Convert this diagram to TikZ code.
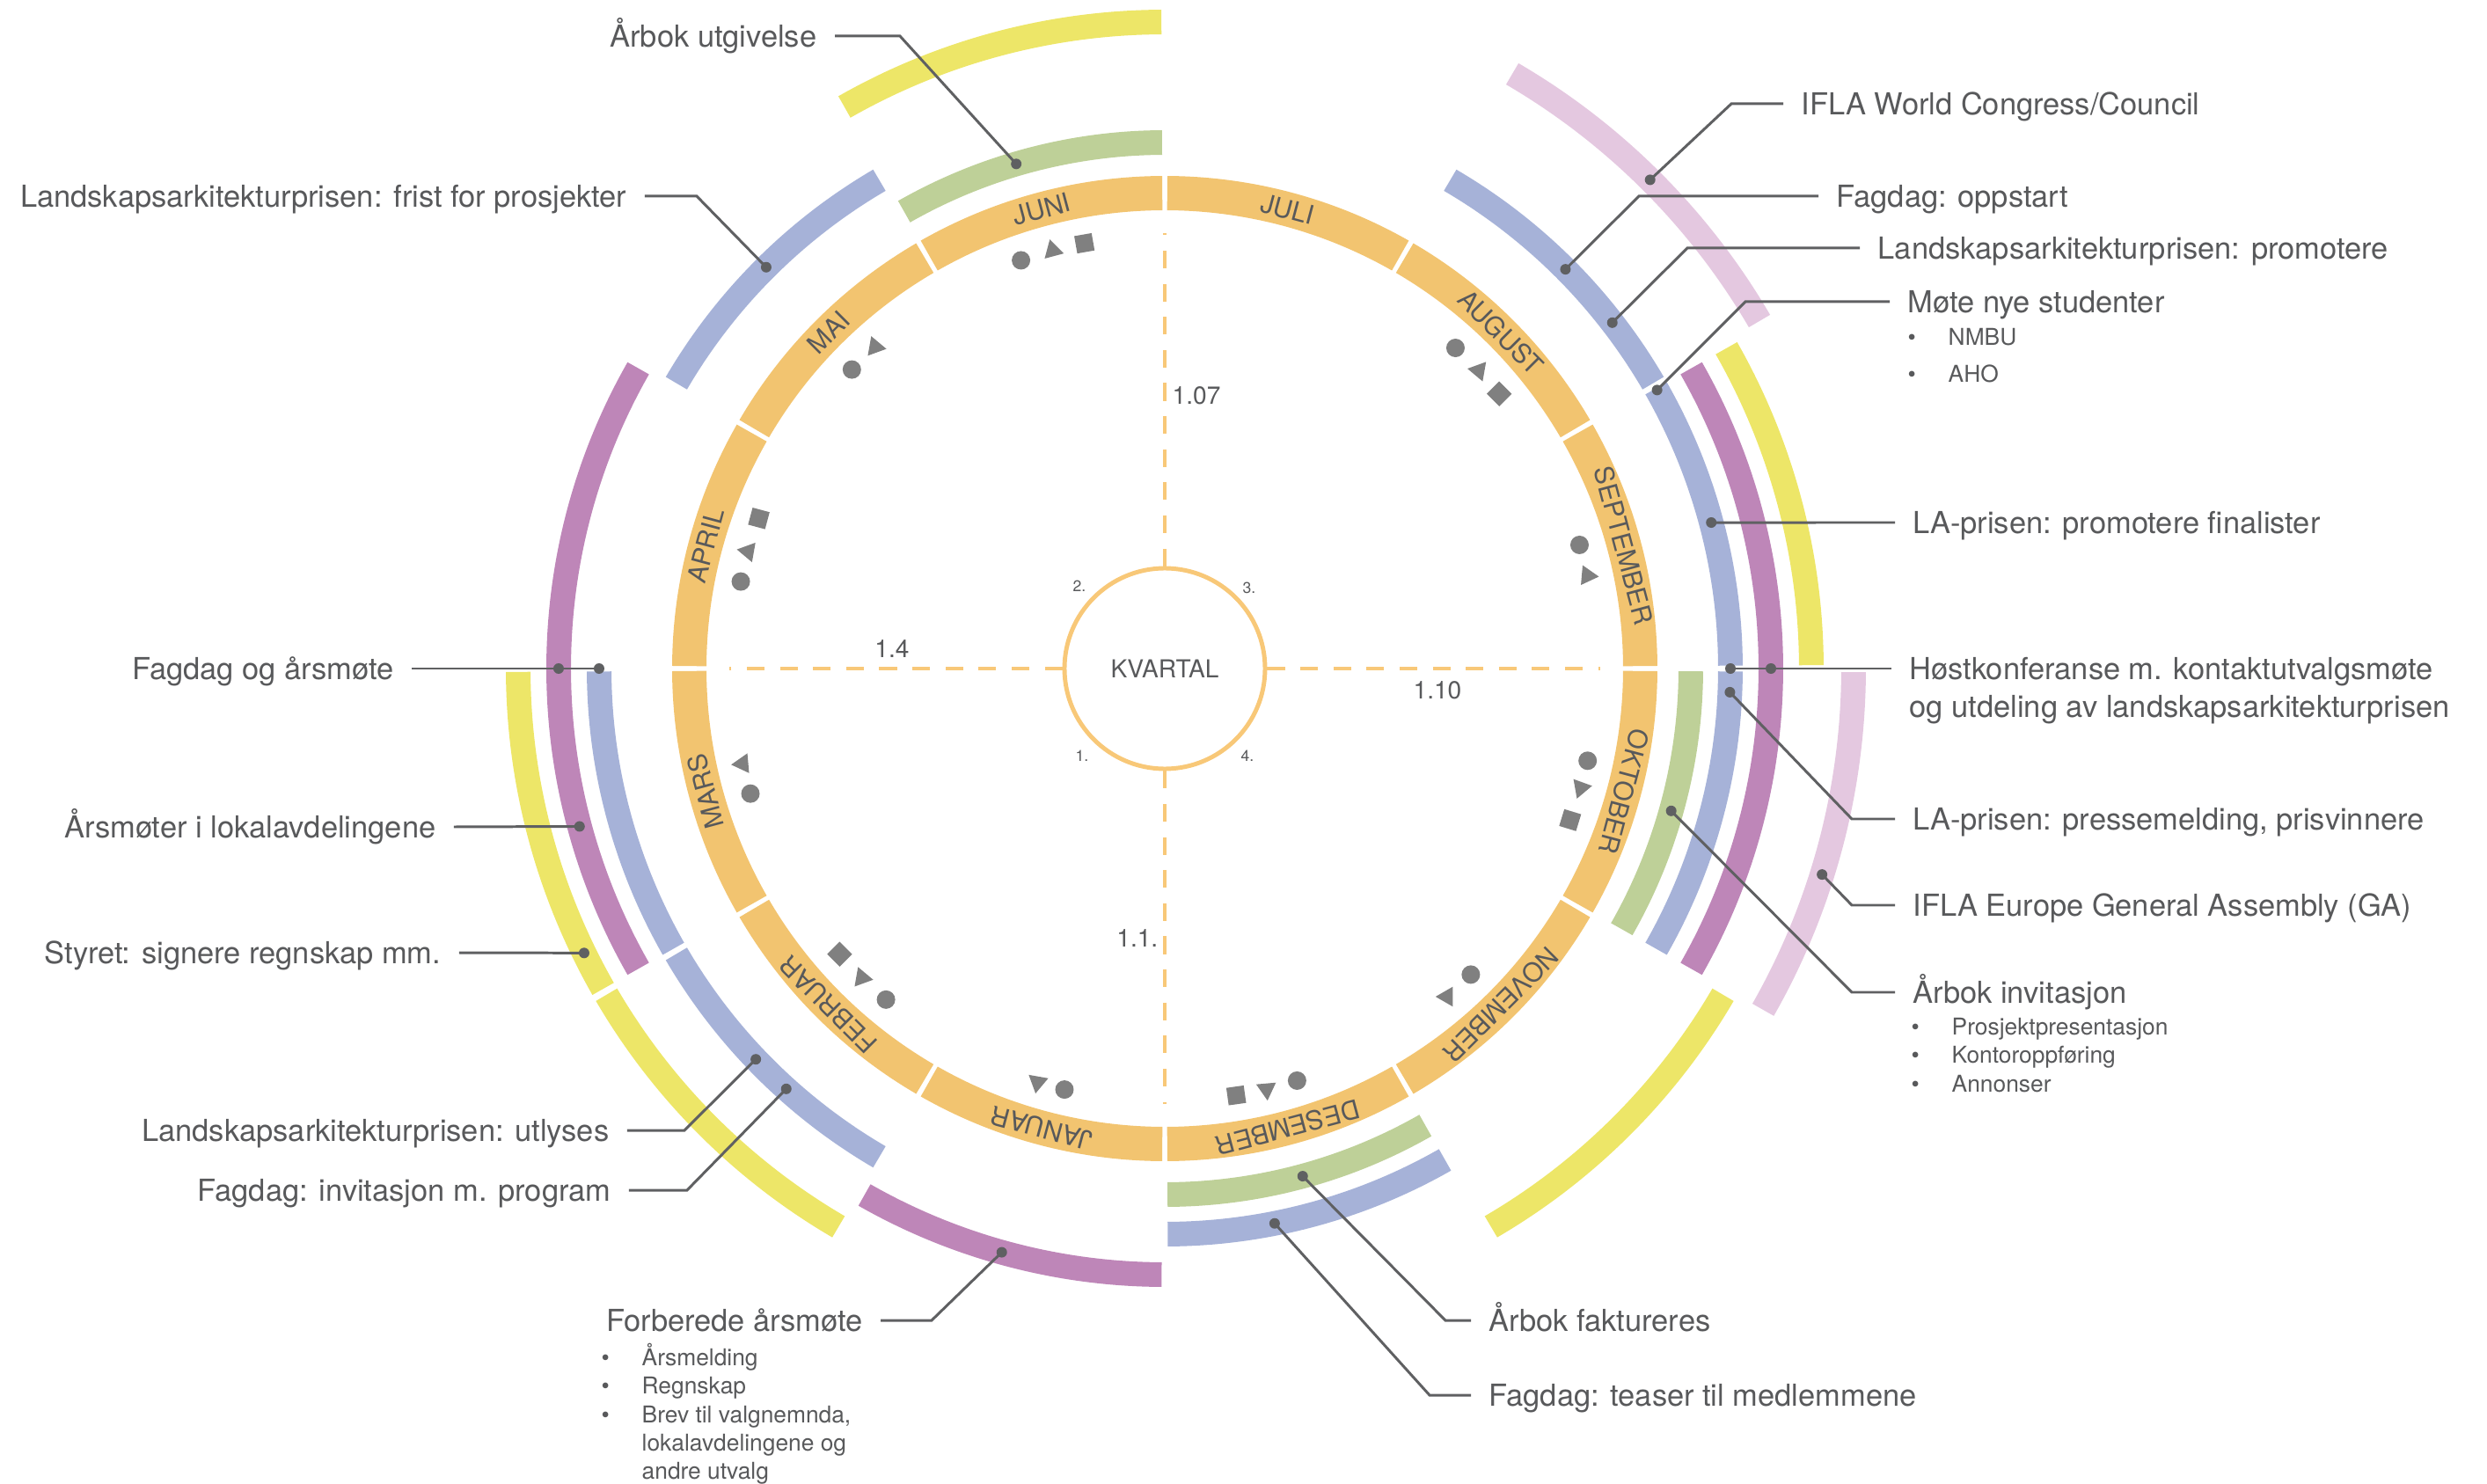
\documentclass[tikz,border=0pt]{standalone}
\usepackage{fontspec}
\setmainfont{TeX Gyre Heros}
\usetikzlibrary{shapes.geometric}
\definecolor{monthc}{HTML}{F2C470}
\definecolor{axisc}{HTML}{F8C878}
\definecolor{greenc}{HTML}{BED098}
\definecolor{bluec}{HTML}{A6B2D8}
\definecolor{purplec}{HTML}{BE86B8}
\definecolor{yellowc}{HTML}{EDE668}
\definecolor{pinkc}{HTML}{E4C8E0}
\definecolor{textc}{HTML}{58595B}
\definecolor{linec}{HTML}{5F6062}
\definecolor{symc}{HTML}{808080}

\begin{document}
\begin{tikzpicture}[
	band/.style={line width=0.28cm},
	monthband/.style={line width=0.39cm, monthc},
	mon/.style={font=\fontsize{8.5}{10}\selectfont, text=textc, inner sep=0pt},
	lbl/.style={font=\fontsize{9.8}{12.3}\selectfont, text=textc, inner xsep=0.2cm, inner ysep=0pt, text height=9pt, text depth=2pt},
	sub/.style={font=\fontsize{7.5}{9.2}\selectfont, text=textc, inner sep=0pt, anchor=base west},
	num/.style={font=\fontsize{8}{10}\selectfont, text=textc, inner sep=0pt},
	qnum/.style={font=\fontsize{5}{6}\selectfont, text=textc, inner sep=0pt},
	con/.style={linec, line width=0.85pt},
	ldot/.style={circle, fill=linec, inner sep=0pt, minimum size=0.12cm},
	quarterline/.style={axisc, line width=1.3pt, dash pattern=on 5.7pt off 5pt},
	symball/.style={circle, fill=symc, inner sep=0pt, minimum size=0.21cm},
	symtri/.style={regular polygon, regular polygon sides=3, fill=symc, inner sep=0pt, minimum size=0.26cm},
	symsq/.style={rectangle, fill=symc, inner sep=0pt, minimum size=0.2cm}]
	\useasboundingbox (-13.24,-9.26) rectangle (15.03,7.60);

	\draw[band, greenc] (90.3:5.98) arc (90.3:119.7:5.98);
	\draw[band, greenc] (-29.7:5.98) arc (-29.7:-0.3:5.98);
	\draw[band, greenc] (-89.7:5.98) arc (-89.7:-60.3:5.98);
	\draw[band, bluec] (120.3:6.43) arc (120.3:149.7:6.43);
	\draw[band, bluec] (180.3:6.43) arc (180.3:209.7:6.43);
	\draw[band, bluec] (210.3:6.43) arc (210.3:239.7:6.43);
	\draw[band, bluec] (30.3:6.43) arc (30.3:59.7:6.43);
	\draw[band, bluec] (0.3:6.43) arc (0.3:29.7:6.43);
	\draw[band, bluec] (-29.7:6.43) arc (-29.7:-0.3:6.43);
	\draw[band, bluec] (-89.7:6.43) arc (-89.7:-60.3:6.43);
	\draw[band, purplec] (150.3:6.89) arc (150.3:209.7:6.89);
	\draw[band, purplec] (240.3:6.89) arc (240.3:269.7:6.89);
	\draw[band, purplec] (-29.7:6.89) arc (-29.7:29.7:6.89);
	\draw[band, yellowc] (90.3:7.35) arc (90.3:119.7:7.35);
	\draw[band, yellowc] (180.3:7.35) arc (180.3:209.7:7.35);
	\draw[band, yellowc] (210.3:7.35) arc (210.3:239.7:7.35);
	\draw[band, yellowc] (0.3:7.35) arc (0.3:29.7:7.35);
	\draw[band, yellowc] (-59.7:7.35) arc (-59.7:-30.3:7.35);
	\draw[band, pinkc] (30.3:7.83) arc (30.3:59.7:7.83);
	\draw[band, pinkc] (-29.7:7.83) arc (-29.7:-0.3:7.83);

	\draw[monthband] (240.3:5.405) arc (240.3:269.7:5.405);
	\node[mon, rotate=165] (januar) at (255:5.405) {JANUAR};
	\draw[monthband] (210.3:5.405) arc (210.3:239.7:5.405);
	\node[mon, rotate=135] (februar) at (225:5.405) {FEBRUAR};
	\draw[monthband] (180.3:5.405) arc (180.3:209.7:5.405);
	\node[mon, rotate=105] (mars) at (195:5.405) {MARS};
	\draw[monthband] (150.3:5.405) arc (150.3:179.7:5.405);
	\node[mon, rotate=75] (april) at (165:5.405) {APRIL};
	\draw[monthband] (120.3:5.405) arc (120.3:149.7:5.405);
	\node[mon, rotate=45] (mai) at (135:5.405) {MAI};
	\draw[monthband] (90.3:5.405) arc (90.3:119.7:5.405);
	\node[mon, rotate=15] (juni) at (105:5.405) {JUNI};
	\draw[monthband] (60.3:5.405) arc (60.3:89.7:5.405);
	\node[mon, rotate=-15] (juli) at (75:5.405) {JULI};
	\draw[monthband] (30.3:5.405) arc (30.3:59.7:5.405);
	\node[mon, rotate=-45] (august) at (45:5.405) {AUGUST};
	\draw[monthband] (0.3:5.405) arc (0.3:29.7:5.405);
	\node[mon, rotate=-75] (september) at (15:5.405) {SEPTEMBER};
	\draw[monthband] (-29.7:5.405) arc (-29.7:-0.3:5.405);
	\node[mon, rotate=-105] (oktober) at (-15:5.405) {OKTOBER};
	\draw[monthband] (-59.7:5.405) arc (-59.7:-30.3:5.405);
	\node[mon, rotate=-135] (november) at (-45:5.405) {NOVEMBER};
	\draw[monthband] (-89.7:5.405) arc (-89.7:-60.3:5.405);
	\node[mon, rotate=-165] (desember) at (-75:5.405) {DESEMBER};

	\node[symsq, rotate=10] (juni-sq) at (100.7:4.92) {};
	\node[symtri, rotate=15] (juni-tri) at (105:4.92) {};
	\node[symball] (juni-ball) at (109.4:4.92) {};
	\node[symtri, rotate=-100] (mai-tri) at (132:4.92) {};
	\node[symball] (mai-ball) at (136.3:4.92) {};
	\node[symsq, rotate=-15] (april-sq) at (159.7:4.92) {};
	\node[symtri, rotate=80] (april-tri) at (164.3:4.92) {};
	\node[symball] (april-ball) at (168.4:4.92) {};
	\node[symtri, rotate=95] (mars-tri) at (192.7:4.92) {};
	\node[symball] (mars-ball) at (196.8:4.92) {};
	\node[symsq, rotate=45] (februar-sq) at (221.3:4.92) {};
	\node[symtri, rotate=-100] (februar-tri) at (225.6:4.92) {};
	\node[symball] (februar-ball) at (229.9:4.92) {};
	\node[symtri, rotate=-70] (januar-tri) at (252.9:4.92) {};
	\node[symball] (januar-ball) at (256.6:4.92) {};
	\node[symsq, rotate=8] (desember-sq) at (279.5:4.92) {};
	\node[symtri, rotate=185] (desember-tri) at (283.6:4.92) {};
	\node[symball] (desember-ball) at (287.8:4.92) {};
	\node[symtri, rotate=90] (november-tri) at (310.7:4.92) {};
	\node[symball] (november-ball) at (315:4.92) {};
	\node[symsq, rotate=-17] (oktober-sq) at (339.5:4.92) {};
	\node[symtri, rotate=-80] (oktober-tri) at (344:4.92) {};
	\node[symball] (oktober-ball) at (347.7:4.92) {};
	\node[symtri, rotate=-95] (september-tri) at (12.4:4.92) {};
	\node[symball] (september-ball) at (16.6:4.92) {};
	\node[symsq, rotate=45] (august-sq) at (39.4:4.92) {};
	\node[symtri, rotate=80] (august-tri) at (43.5:4.92) {};
	\node[symball] (august-ball) at (47.8:4.92) {};

	\node[circle, draw=axisc, line width=1.4pt, minimum size=2.28cm, font=\fontsize{8}{10}\selectfont, text=textc] (kvartal) at (0,0) {KVARTAL};
	\draw[quarterline] (kvartal.north) -- (90:4.95);
	\draw[quarterline] (kvartal.west) -- (180:4.95);
	\draw[quarterline] (kvartal.south) -- (270:4.95);
	\draw[quarterline] (kvartal.east) -- (0:4.95);
	\node[num, anchor=west] (d107) at (0.08,3.10) {1.07};
	\node[num] (d14) at (-3.10,0.22) {1.4};
	\node[num] (d110) at (3.10,-0.25) {1.10};
	\node[num, anchor=east] (d11) at (-0.07,-3.07) {1.1.};
	\node[qnum] (k2) at (-0.97,0.94) {2.};
	\node[qnum] (k3) at (0.96,0.92) {3.};
	\node[qnum] (k1) at (-0.94,-0.99) {1.};
	\node[qnum] (k4) at (0.94,-0.99) {4.};

	\node[lbl, anchor=east] (utgivelse) at (-3.75,7.19) {Årbok utgivelse};
	\coordinate (k-utgivelse) at (-3.01,7.19);
	\node[ldot] (d-utgivelse) at (106.4:5.98) {};
	\draw[con] (utgivelse.east) -- (k-utgivelse) -- (d-utgivelse.center);

	\node[lbl, anchor=east] (frist) at (-5.91,5.37) {Landskapsarkitekturprisen: frist for prosjekter};
	\coordinate (k-frist) at (-5.32,5.37);
	\node[ldot] (d-frist) at (134.8:6.43) {};
	\draw[con] (frist.east) -- (k-frist) -- (d-frist.center);

	\node[lbl, anchor=east] (fagdag) at (-8.56,0) {Fagdag og årsmøte};
	\node[ldot] (d-fagdag-p) at (180:6.89) {};
	\node[ldot] (d-fagdag-b) at (180:6.43) {};
	\draw[con] (fagdag.east) -- (d-fagdag-b.center);

	\node[lbl, anchor=east] (lokal) at (-8.08,-1.80) {Årsmøter i lokalavdelingene};
	\node[ldot] (d-lokal) at (195.1:6.89) {};
	\draw[con] (lokal.east) -- (d-lokal.center);

	\node[lbl, anchor=east] (styret) at (-8.02,-3.23) {Styret: signere regnskap mm.};
	\node[ldot] (d-styret) at (206.1:7.35) {};
	\draw[con] (styret.east) -- (d-styret.center);

	\node[lbl, anchor=east] (utlyses) at (-6.11,-5.25) {Landskapsarkitekturprisen: utlyses};
	\coordinate (k-utlyses) at (-5.46,-5.25);
	\node[ldot] (d-utlyses) at (223.7:6.43) {};
	\draw[con] (utlyses.east) -- (k-utlyses) -- (d-utlyses.center);

	\node[lbl, anchor=east] (program) at (-6.09,-5.93) {Fagdag: invitasjon m. program};
	\coordinate (k-program) at (-5.43,-5.93);
	\node[ldot] (d-program) at (228:6.43) {};
	\draw[con] (program.east) -- (k-program) -- (d-program.center);

	\node[lbl, anchor=east] (forberede) at (-3.23,-7.41) {Forberede årsmøte};
	\coordinate (k-forberede) at (-2.65,-7.41);
	\node[ldot] (d-forberede) at (254.4:6.89) {};
	\draw[con] (forberede.east) -- (k-forberede) -- (d-forberede.center);
	\node[sub] (forberede-list) at (-6.41,-7.925) {\begin{tabular}[t]{@{}p{0.46cm}@{}l@{}}\textbullet & Årsmelding\\ \textbullet & Regnskap\\ \textbullet & Brev til valgnemnda,\\ & lokalavdelingene og\\ & andre utvalg\end{tabular}};

	\node[lbl, anchor=west] (world) at (7.03,6.42) {IFLA World Congress/Council};
	\coordinate (k-world) at (6.44,6.42);
	\node[ldot] (d-world) at (45.2:7.83) {};
	\draw[con] (d-world.center) -- (k-world) -- (world.west);

	\node[lbl, anchor=west] (oppstart) at (7.43,5.37) {Fagdag: oppstart};
	\coordinate (k-oppstart) at (5.39,5.37);
	\node[ldot] (d-oppstart) at (44.9:6.43) {};
	\draw[con] (d-oppstart.center) -- (k-oppstart) -- (oppstart.west);

	\node[lbl, anchor=west] (promotere) at (7.90,4.78) {Landskapsarkitekturprisen: promotere};
	\coordinate (k-promotere) at (5.94,4.78);
	\node[ldot] (d-promotere) at (37.7:6.43) {};
	\draw[con] (d-promotere.center) -- (k-promotere) -- (promotere.west);

	\node[lbl, anchor=west] (studenter) at (8.24,4.17) {Møte nye studenter};
	\coordinate (k-studenter) at (6.60,4.17);
	\node[ldot] (d-studenter) at (29.5:6.43) {};
	\draw[con] (d-studenter.center) -- (k-studenter) -- (studenter.west);
	\node[sub, font=\fontsize{7.5}{11.9}\selectfont] (studenter-list) at (8.44,3.675) {\begin{tabular}[t]{@{}p{0.46cm}@{}l@{}}\textbullet & NMBU\\ \textbullet & AHO\end{tabular}};

	\node[lbl, anchor=west] (finalister) at (8.30,1.66) {LA-prisen: promotere finalister};
	\node[ldot] (d-finalister) at (14.96:6.43) {};
	\draw[con] (d-finalister.center) -- (finalister.west);

	\node[lbl, anchor=west] (host) at (8.26,0) {\begin{tabular}[t]{@{}l@{}}Høstkonferanse m. kontaktutvalgsmøte\\ og utdeling av landskapsarkitekturprisen\end{tabular}};
	\node[ldot] (d-host-b) at (0:6.43) {};
	\node[ldot] (d-host-p) at (0:6.89) {};
	\draw[con] (d-host-b.center) -- (host.west);

	\node[lbl, anchor=west] (presse) at (8.30,-1.71) {LA-prisen: pressemelding, prisvinnere};
	\coordinate (k-presse) at (7.81,-1.71);
	\node[ldot] (d-presse) at (-2.4:6.43) {};
	\draw[con] (d-presse.center) -- (k-presse) -- (presse.west);

	\node[lbl, anchor=west] (europe) at (8.30,-2.69) {IFLA Europe General Assembly (GA)};
	\coordinate (k-europe) at (7.81,-2.69);
	\node[ldot] (d-europe) at (-17.4:7.83) {};
	\draw[con] (d-europe.center) -- (k-europe) -- (europe.west);

	\node[lbl, anchor=west] (arbokinv) at (8.30,-3.68) {Årbok invitasjon};
	\coordinate (k-arbokinv) at (7.81,-3.68);
	\node[ldot] (d-arbokinv) at (-15.7:5.98) {};
	\draw[con] (d-arbokinv.center) -- (k-arbokinv) -- (arbokinv.west);
	\node[sub] (arbokinv-list) at (8.48,-4.165) {\begin{tabular}[t]{@{}p{0.46cm}@{}l@{}}\textbullet & Prosjektpresentasjon\\ \textbullet & Kontoroppføring\\ \textbullet & Annonser\end{tabular}};

	\node[lbl, anchor=west] (faktureres) at (3.48,-7.41) {Årbok faktureres};
	\coordinate (k-faktureres) at (3.19,-7.41);
	\node[ldot] (d-faktureres) at (-74.8:5.98) {};
	\draw[con] (d-faktureres.center) -- (k-faktureres) -- (faktureres.west);

	\node[lbl, anchor=west] (teaser) at (3.48,-8.26) {Fagdag: teaser til medlemmene};
	\coordinate (k-teaser) at (3.01,-8.26);
	\node[ldot] (d-teaser) at (-78.8:6.43) {};
	\draw[con] (d-teaser.center) -- (k-teaser) -- (teaser.west);
\end{tikzpicture}
\end{document}
